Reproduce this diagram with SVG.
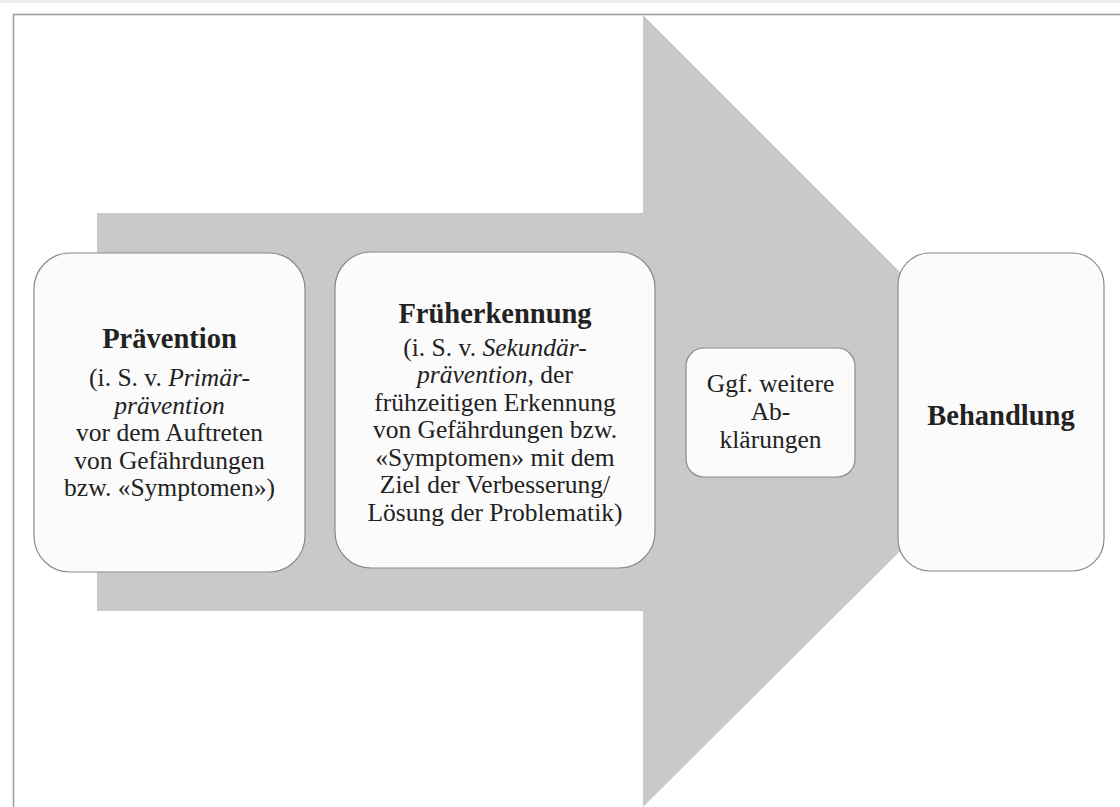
<svg xmlns="http://www.w3.org/2000/svg" width="1120" height="807" viewBox="0 0 1120 807">
<style>
.box{fill:#fbfbfb;stroke:#8a8a8a;stroke-width:1.2}
.t{font-family:"Liberation Serif","Times New Roman",serif;fill:#222;text-anchor:middle}
.title{font-size:28.5px;font-weight:bold}
.body{font-size:25.5px}
</style>
<rect x="0" y="0" width="1120" height="807" fill="#ffffff"/>
<rect x="0" y="0" width="1120" height="3" fill="#eeeeee"/>
<g id="frame">
<polyline points="13.5,807 13.5,14.5 1120,14.5" fill="none" stroke="#9a9a9a" stroke-width="1.5"/>
</g>
<g id="arrow">
<polygon points="97,213 643,213 643,15 1040,412 643,807 643,611 97,611" fill="#c9c9c9"/>
</g>
<g id="connectors"></g>
<g id="praevention">
<rect class="box" x="34" y="253" width="271" height="319" rx="36" ry="36"/>
<text class="t title" x="169.5" y="347.5">Prävention</text>
<text class="t body" x="169.5" y="386">(i. S. v. <tspan font-style="italic">Primär-</tspan></text>
<text class="t body" x="169.5" y="413.5" font-style="italic">prävention</text>
<text class="t body" x="169.5" y="441">vor dem Auftreten</text>
<text class="t body" x="169.5" y="468.5">von Gefährdungen</text>
<text class="t body" x="169.5" y="496">bzw. «Symptomen»)</text>
</g>
<g id="frueherkennung">
<rect class="box" x="335" y="252" width="320" height="316" rx="36" ry="36"/>
<text class="t title" x="495" y="323">Früherkennung</text>
<text class="t body" x="495" y="355.5">(i. S. v. <tspan font-style="italic">Sekundär-</tspan></text>
<text class="t body" x="495" y="383"><tspan font-style="italic">prävention</tspan>, der</text>
<text class="t body" x="495" y="410.5">frühzeitigen Erkennung</text>
<text class="t body" x="495" y="438">von Gefährdungen bzw.</text>
<text class="t body" x="495" y="465.5">«Symptomen» mit dem</text>
<text class="t body" x="495" y="493">Ziel der Verbesserung/</text>
<text class="t body" x="495" y="520.5">Lösung der Problematik)</text>
</g>
<g id="abklaerungen">
<rect class="box" x="686" y="348" width="169" height="129" rx="18" ry="18"/>
<text class="t body" x="770.5" y="392">Ggf. weitere</text>
<text class="t body" x="770.5" y="420">Ab-</text>
<text class="t body" x="770.5" y="448">klärungen</text>
</g>
<g id="behandlung">
<rect class="box" x="898" y="253" width="206" height="318" rx="32" ry="32"/>
<text class="t title" x="1001" y="425">Behandlung</text>
</g>
</svg>
